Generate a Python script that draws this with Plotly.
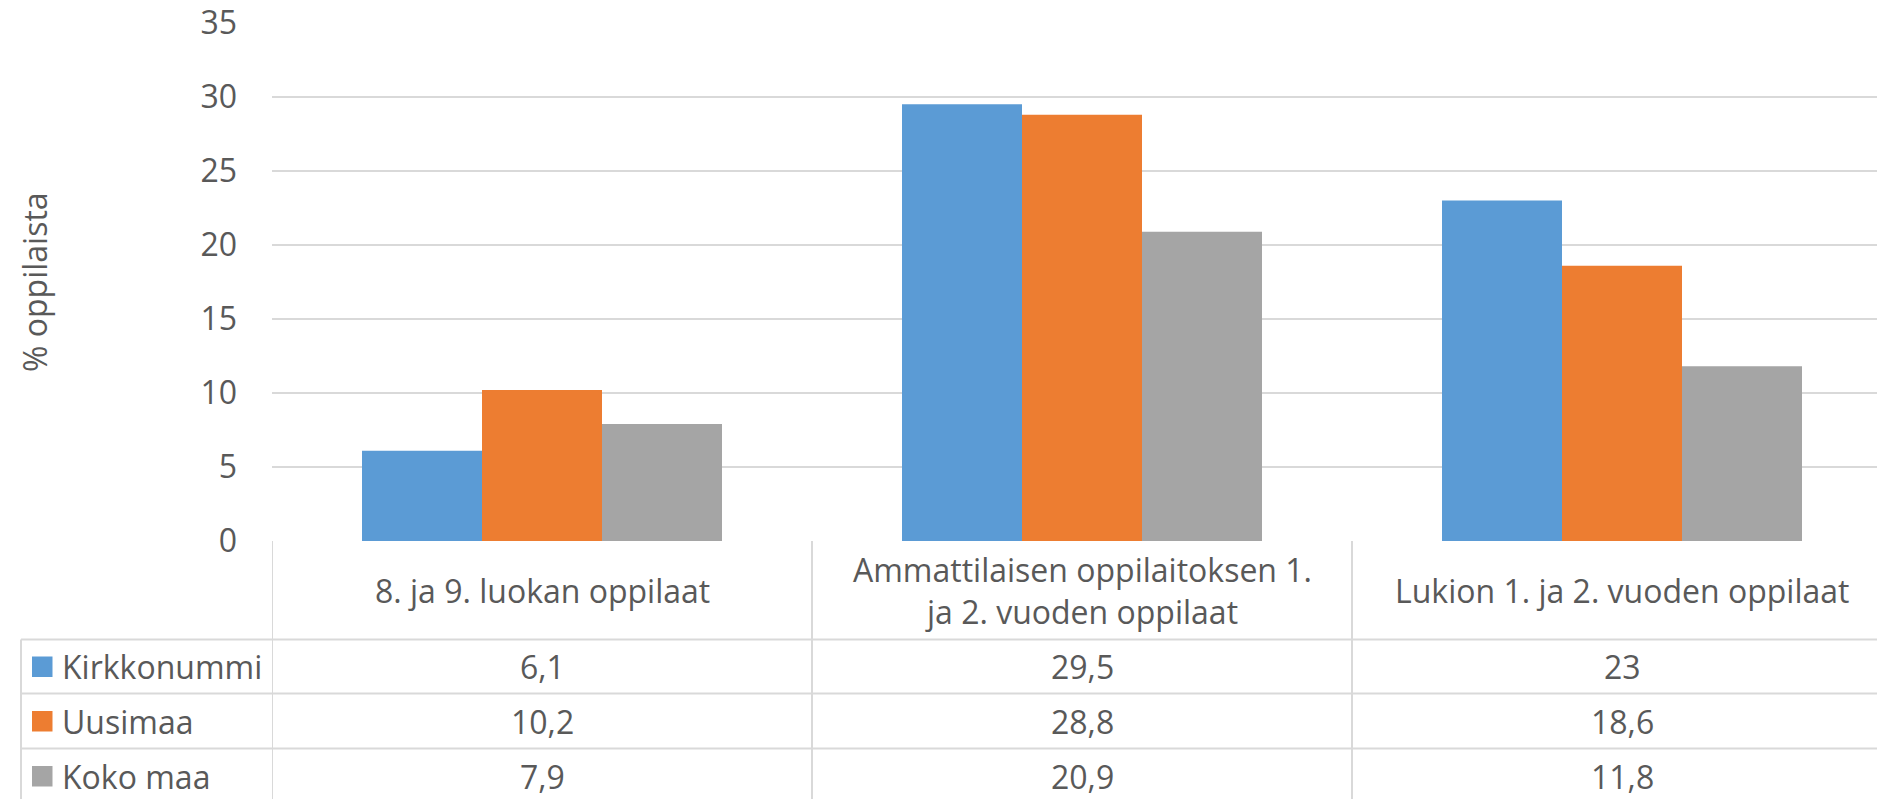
import plotly.graph_objects as go

categories = ["8. ja 9. luokan oppilaat",
              "Ammattilaisen oppilaitoksen 1.<br>ja 2. vuoden oppilaat",
              "Lukion 1. ja 2. vuoden oppilaat"]
series_names = ["Kirkkonummi", "Uusimaa", "Koko maa"]
kirkkonummi = [6.1, 29.5, 23]
uusimaa = [10.2, 28.8, 18.6]
koko_maa = [7.9, 20.9, 11.8]
colors = ["#5B9BD5", "#ED7D31", "#A5A5A5"]
y_ticks = [0, 5, 10, 15, 20, 25, 30, 35]

# the page body adds an 8px margin, so the figure is drawn 8px smaller/shifted
OFF = 8
W, H = 1885 - OFF, 799 - OFF
FONT = "Open Sans"
TXT = "#595959"
GRID = "#D9D9D9"
FS = 32


def py(p):
    # screen pixel row -> paper y
    return 1 - (p - OFF) / H


def px(p):
    return (p - OFF) / W


plot_left, plot_top, plot_bottom = 272, 23, 541
cat_w = 540
rows = [639.5, 693.5, 748.5, 803.5]

x = list(range(len(categories)))
fig = go.Figure()
for name, vals, col in zip(series_names, [kirkkonummi, uusimaa, koko_maa], colors):
    fig.add_trace(go.Bar(x=x, y=vals, name=name, marker_color=col,
                         marker_line_width=0, showlegend=False, hoverinfo="y+name"))

shapes = []
annotations = []
txt_font = dict(family=FONT, size=FS, color=TXT)

# table borders
for xv in [-0.5, 0.5, 1.5]:
    shapes.append(dict(type="line", xref="x", yref="paper", x0=xv, x1=xv,
                       y0=py(plot_bottom), y1=py(820), line=dict(color=GRID, width=2)))
shapes.append(dict(type="line", xref="paper", yref="paper", x0=px(21), x1=px(21),
                   y0=py(rows[0]), y1=py(820), line=dict(color=GRID, width=2)))
for r in rows[:-1]:
    shapes.append(dict(type="line", xref="paper", yref="paper", x0=px(21), x1=1,
                       y0=py(r), y1=py(r), line=dict(color=GRID, width=2)))

# header texts
for i, c in enumerate(categories):
    annotations.append(dict(x=i, y=py((plot_bottom + rows[0]) / 2), xref="x", yref="paper",
                            xanchor="center", yanchor="middle",
                            text=c, showarrow=False, font=txt_font))

# rows: legend keys and values
for k, (name, vals, col) in enumerate(zip(series_names, [kirkkonummi, uusimaa, koko_maa], colors)):
    yc = (rows[k] + rows[k + 1]) / 2
    shapes.append(dict(type="rect", xref="paper", yref="paper", x0=px(32), x1=px(52.5),
                       y0=py(yc + 10.5), y1=py(yc - 10), fillcolor=col, line=dict(width=0)))
    annotations.append(dict(x=px(60), y=py(yc), xref="paper", yref="paper",
                            xanchor="left", yanchor="middle",
                            text=name, showarrow=False, font=txt_font))
    for i, v in enumerate(vals):
        annotations.append(dict(x=i, y=py(yc), xref="x", yref="paper",
                                xanchor="center", yanchor="middle",
                                text=f"{v:g}".replace(".", ","), showarrow=False,
                                font=txt_font))

# y axis title
annotations.append(dict(x=px(34), y=py((plot_top + plot_bottom) / 2), xref="paper", yref="paper",
                        xanchor="center", yanchor="middle",
                        text="% oppilaista", textangle=-90, showarrow=False, font=txt_font))

fig.update_layout(
    template="none",
    width=W, height=H,
    margin=dict(l=0, r=0, t=0, b=0, autoexpand=False),
    paper_bgcolor="white", plot_bgcolor="white",
    barmode="group", bargap=1 / 3, bargroupgap=0,
    xaxis=dict(domain=[px(plot_left), 1],
               range=[-0.5, -0.5 + (W + OFF - plot_left) / cat_w],
               automargin=False, showticklabels=False, showgrid=False,
               zeroline=False, showline=False, ticks=""),
    yaxis=dict(domain=[py(plot_bottom), py(plot_top - 0.2)], range=[0, 35.01],
               tickmode="array", tickvals=y_ticks, ticklabeloverflow="allow",
               automargin=False, gridcolor=GRID, gridwidth=2, zeroline=False,
               showline=False, ticks="", ticklabelstandoff=34,
               tickfont=txt_font),
    shapes=shapes,
    annotations=annotations,
    font=dict(family=FONT, color=TXT),
)

fig.write_html("out.html")
